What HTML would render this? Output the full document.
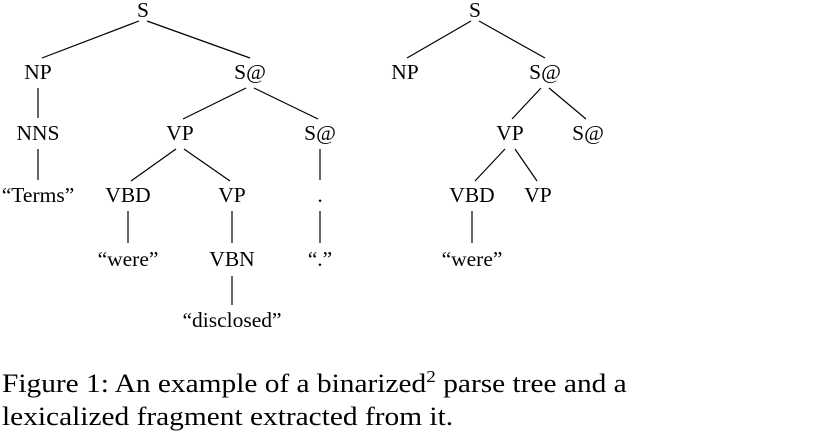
<!DOCTYPE html>
<html><head><style>
html,body{margin:0;padding:0;background:#fff;width:830px;height:409px;overflow:hidden}
svg{position:absolute;left:0;top:0}
text{font-family:"Liberation Serif",serif;font-size:21.5px;fill:#000}
.c{position:absolute;left:2px;top:367px;font-family:"Liberation Serif",serif;font-size:26px;line-height:33px;white-space:nowrap;color:#000;transform:scaleX(1.13);transform-origin:0 0}
</style></head><body>
<svg width="830" height="409" viewBox="0 0 830 409">
<g stroke="#000" stroke-width="1.2" fill="none">
<line x1="139" y1="21" x2="42" y2="58"/>
<line x1="147" y1="21" x2="250" y2="58"/>
<line x1="38" y1="88" x2="38" y2="118"/>
<line x1="246" y1="88" x2="183" y2="119"/>
<line x1="254" y1="88" x2="318" y2="119"/>
<line x1="38" y1="149" x2="38" y2="180"/>
<line x1="176" y1="149" x2="131" y2="181"/>
<line x1="184" y1="149" x2="230" y2="181"/>
<line x1="320" y1="149" x2="320" y2="180"/>
<line x1="128" y1="211" x2="128" y2="243"/>
<line x1="232" y1="211" x2="232" y2="243"/>
<line x1="320" y1="211" x2="320" y2="243"/>
<line x1="232" y1="276" x2="232" y2="305"/>
<line x1="471" y1="21" x2="407" y2="58"/>
<line x1="479" y1="21" x2="545" y2="58"/>
<line x1="541" y1="88" x2="512" y2="119"/>
<line x1="549" y1="88" x2="586" y2="119"/>
<line x1="505" y1="149" x2="475" y2="181"/>
<line x1="515" y1="149" x2="537" y2="181"/>
<line x1="472" y1="211" x2="472" y2="243"/>
</g>
<g text-anchor="middle">
<text x="143" y="17">S</text>
<text x="38" y="79">NP</text>
<text x="250" y="79">S@</text>
<text x="38" y="140">NNS</text>
<text x="180" y="140">VP</text>
<text x="320" y="140">S@</text>
<text x="38" y="202">“Terms”</text>
<text x="128" y="202">VBD</text>
<text x="232" y="202">VP</text>
<text x="320" y="202">.</text>
<text x="128" y="266">“were”</text>
<text x="232" y="266">VBN</text>
<text x="320" y="266">“.”</text>
<text x="232" y="327">“disclosed”</text>
<text x="475" y="17">S</text>
<text x="405" y="79">NP</text>
<text x="545" y="79">S@</text>
<text x="510" y="140">VP</text>
<text x="588" y="140">S@</text>
<text x="472" y="202">VBD</text>
<text x="538" y="202">VP</text>
<text x="472" y="266">“were”</text>
</g>
</svg>
<div class="c">Figure 1: An example of a binarized<sup style="font-size:17px;vertical-align:10px;line-height:0">2</sup> parse tree and a<br>lexicalized fragment extracted from it.</div>
</body></html>
